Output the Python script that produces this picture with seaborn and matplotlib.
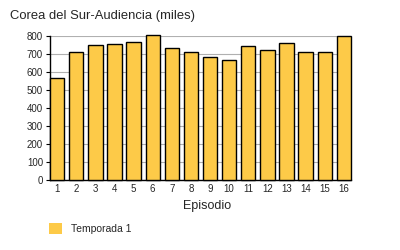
import matplotlib
matplotlib.use("Agg")
import matplotlib.pyplot as plt
import seaborn as sns
import pandas as pd
from matplotlib.patches import Patch

episodes = [str(i) for i in range(1, 17)]
audience = [565, 709, 748, 754, 765, 805, 731, 713, 681, 665, 742, 720, 759, 713, 709, 798]
series_name = "Temporada 1"
title = "Corea del Sur-Audiencia (miles)"
xlabel = "Episodio"
yticks = [0, 100, 200, 300, 400, 500, 600, 700, 800]

sns.set_style("white")
plt.rcParams['font.family'] = ['Liberation Sans', 'DejaVu Sans']

df = pd.DataFrame({"Episodio": episodes, "Audiencia": audience})

fig = plt.figure(figsize=(4, 2.5), dpi=100)
ax = fig.add_axes([0.125, 0.28, 0.7525, 0.576])
color = '#fdca48'
sns.barplot(data=df, x="Episodio", y="Audiencia", color=color, width=0.75,
            edgecolor='black', linewidth=1.0, saturation=1, ax=ax, zorder=3)
for p in ax.patches:
    p.set_clip_on(False)

ax.set_ylim(0, 800)
ax.set_xlim(-0.375, 15.375)
ax.set_yticks(yticks)
ax.yaxis.grid(True, color='#b0b0b0', linewidth=0.8, zorder=0)
ax.set_axisbelow(True)
for s in ['top', 'right']:
    ax.spines[s].set_visible(False)
ax.spines['left'].set_color('black')
ax.spines['bottom'].set_color('black')
ax.spines['left'].set_linewidth(1.0)
ax.spines['bottom'].set_linewidth(1.0)
ax.tick_params(axis='y', length=3, width=0.8, color='black', labelsize=7, pad=2, left=True)
ax.tick_params(axis='x', length=0, labelsize=7, pad=3)
ax.set_xlabel("")
ax.set_ylabel("")

fig.text(0.025, 0.935, title, fontsize=9.4, ha='left', va='center')
fig.text(0.517, 0.176, xlabel, fontsize=9, ha='center', va='center')

handles = [Patch(facecolor=color, edgecolor='none', label=series_name)]
fig.legend(handles=handles, loc='center left', bbox_to_anchor=(0.098, 0.085),
           frameon=False, fontsize=7.5, handlelength=1.3, handleheight=1.3,
           handletextpad=0.9)

fig.savefig("out.png", dpi=100)
